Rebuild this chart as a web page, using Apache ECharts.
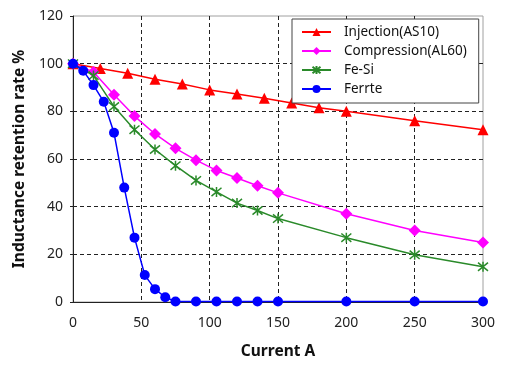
<!DOCTYPE html>
<html>
<head>
<meta charset="utf-8">
<script src="https://cdn.jsdelivr.net/npm/echarts@6/dist/echarts.min.js"></script>
<style>html,body{margin:0;padding:0;background:#fff;}#c{width:513px;height:373px;}</style>
</head>
<body>
<div id="c"></div>
<script>
var seriesNames = ['Injection(AS10)', 'Compression(AL60)', 'Fe-Si', 'Ferrte'];

var injX = [0, 20, 40, 60, 80, 100, 120, 140, 160, 180, 200, 250, 300];
var injY = [100, 98, 96, 93.5, 91.5, 89, 87.3, 85.5, 83.5, 81.5, 80, 76, 72.3];

var compX = [0, 15, 30, 45, 60, 75, 90, 105, 120, 135, 150, 200, 250, 300];
var compY = [100, 96.5, 87, 78, 70.5, 64.5, 59.5, 55.2, 52, 48.8, 45.8, 37, 30, 25];

var fesiX = [0, 15, 30, 45, 60, 75, 90, 105, 120, 135, 150, 200, 250, 300];
var fesiY = [100, 95, 82, 72.3, 64, 57.2, 51, 46.2, 41.5, 38.4, 35, 27, 19.8, 14.8];

var ferX = [0, 7.5, 15, 22.5, 30, 37.5, 45, 52.5, 60, 67.5, 75, 90, 105, 120, 135, 150, 200, 250, 300];
var ferY = [100, 97, 91, 84, 71, 48, 27, 11.3, 5.4, 2, 0.2, 0.2, 0.2, 0.2, 0.2, 0.2, 0.2, 0.2, 0.2];

var xTicks = [0, 50, 100, 150, 200, 250, 300];
var yTicks = [0, 20, 40, 60, 80, 100, 120];

function pairs(xs, ys) { return xs.map(function (x, i) { return [x, ys[i]]; }); }

var asterisk = 'path://M0,0L10,10M10,0L0,10M5,-1L5,11';
var green = '#2a8a2a';
var font = 'Noto Sans';

var chart = echarts.init(document.getElementById('c'), null, {renderer: 'canvas'});
chart.setOption({
  animation: false,
  backgroundColor: '#fff',
  grid: {left: 73, right: 30, top: 16, bottom: 71, show: true, borderColor: '#a0a0a0', borderWidth: 1},
  legend: {
    orient: 'vertical', left: 292, top: 19,
    backgroundColor: '#fff', borderColor: '#444', borderWidth: 1,
    padding: [6, 12, 7, 9],
    itemWidth: 29, itemHeight: 10, itemGap: 5,
    textStyle: {fontFamily: font, fontSize: 13.5, color: '#111', padding: [0, 0, 0, 8]},
    data: seriesNames
  },
  xAxis: {
    type: 'value', min: xTicks[0], max: xTicks[xTicks.length - 1], interval: 50,
    name: 'Current A', nameLocation: 'middle', nameGap: 42,
    nameTextStyle: {fontFamily: font, fontSize: 15.5, fontWeight: 'bold', color: '#111'},
    axisLine: {show: true, onZero: false, lineStyle: {color: '#222', width: 1}},
    axisTick: {show: false},
    axisLabel: {fontFamily: font, fontSize: 14, color: '#222', margin: 14},
    splitLine: {show: true, showMinLine: false, showMaxLine: false, lineStyle: {color: '#222', type: [4, 3], width: 1}}
  },
  yAxis: {
    type: 'value', min: yTicks[0], max: yTicks[yTicks.length - 1], interval: 20,
    name: 'Inductance retention rate %', nameLocation: 'middle', nameGap: 44,
    nameTextStyle: {fontFamily: font, fontSize: 15.5, fontWeight: 'bold', color: '#111'},
    axisLine: {show: true, lineStyle: {color: '#222', width: 1}},
    axisTick: {show: true, length: 3, lineStyle: {color: '#222'}},
    axisLabel: {fontFamily: font, fontSize: 14, color: '#222', margin: 10},
    splitLine: {show: true, showMinLine: false, showMaxLine: false, lineStyle: {color: '#222', type: [4, 3], width: 1}}
  },
  series: [
    {name: seriesNames[0], type: 'line', data: pairs(injX, injY), symbol: 'triangle', symbolSize: 11,
     lineStyle: {color: '#ff0000', width: 1.5}, itemStyle: {color: '#ff0000'}, z: 2},
    {name: seriesNames[1], type: 'line', data: pairs(compX, compY), symbol: 'diamond', symbolSize: 12,
     lineStyle: {color: '#ff00ff', width: 1.5}, itemStyle: {color: '#ff00ff'}, z: 3},
    {name: seriesNames[2], type: 'line', data: pairs(fesiX, fesiY), symbol: asterisk, symbolSize: 10,
     lineStyle: {color: green, width: 1.5},
     itemStyle: {color: 'rgba(0,0,0,0)', borderColor: green, borderWidth: 1.5}, z: 4},
    {name: seriesNames[3], type: 'line', data: pairs(ferX, ferY), symbol: 'circle', symbolSize: 10,
     lineStyle: {color: '#0000ff', width: 1.5}, itemStyle: {color: '#0000ff'}, z: 5}
  ]
});
</script>
</body>
</html>
